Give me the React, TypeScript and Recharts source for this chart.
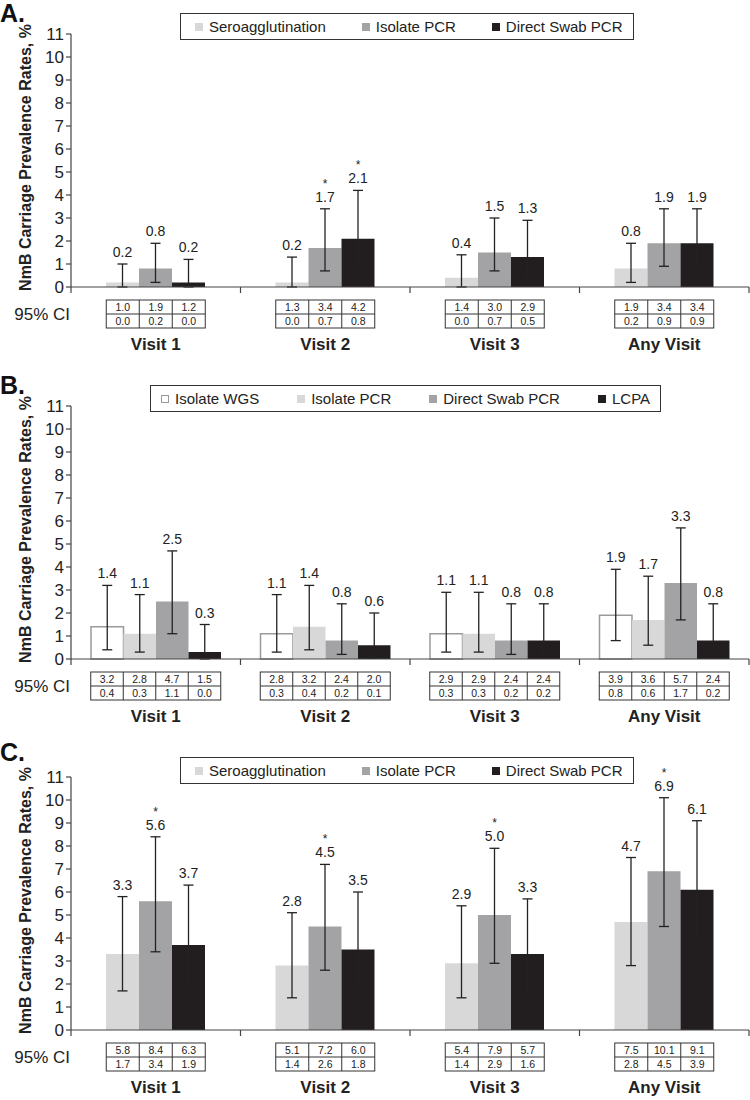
import React from 'react';
import { BarChart, Bar, XAxis, YAxis, ErrorBar, Legend } from 'recharts';

const FONT = '"Liberation Sans", Arial, Helvetica, sans-serif';

const visits = ['Visit 1', 'Visit 2', 'Visit 3', 'Any Visit'];
const yTicks = [0, 1, 2, 3, 4, 5, 6, 7, 8, 9, 10, 11];

// Panel A
const aSeroVal = [0.2, 0.2, 0.4, 0.8];
const aSeroHi = [1.0, 1.3, 1.4, 1.9];
const aSeroLo = [0.0, 0.0, 0.0, 0.2];
const aIsoVal = [0.8, 1.7, 1.5, 1.9];
const aIsoHi = [1.9, 3.4, 3.0, 3.4];
const aIsoLo = [0.2, 0.7, 0.7, 0.9];
const aDirVal = [0.2, 2.1, 1.3, 1.9];
const aDirHi = [1.2, 4.2, 2.9, 3.4];
const aDirLo = [0.0, 0.8, 0.5, 0.9];
const aIsoStar = [false, true, false, false];
const aDirStar = [false, true, false, false];

// Panel B
const bWgsVal = [1.4, 1.1, 1.1, 1.9];
const bWgsHi = [3.2, 2.8, 2.9, 3.9];
const bWgsLo = [0.4, 0.3, 0.3, 0.8];
const bIsoVal = [1.1, 1.4, 1.1, 1.7];
const bIsoHi = [2.8, 3.2, 2.9, 3.6];
const bIsoLo = [0.3, 0.4, 0.3, 0.6];
const bDirVal = [2.5, 0.8, 0.8, 3.3];
const bDirHi = [4.7, 2.4, 2.4, 5.7];
const bDirLo = [1.1, 0.2, 0.2, 1.7];
const bLcpaVal = [0.3, 0.6, 0.8, 0.8];
const bLcpaHi = [1.5, 2.0, 2.4, 2.4];
const bLcpaLo = [0.0, 0.1, 0.2, 0.2];
const noStar = [false, false, false, false];

// Panel C
const cSeroVal = [3.3, 2.8, 2.9, 4.7];
const cSeroHi = [5.8, 5.1, 5.4, 7.5];
const cSeroLo = [1.7, 1.4, 1.4, 2.8];
const cIsoVal = [5.6, 4.5, 5.0, 6.9];
const cIsoHi = [8.4, 7.2, 7.9, 10.1];
const cIsoLo = [3.4, 2.6, 2.9, 4.5];
const cDirVal = [3.7, 3.5, 3.3, 6.1];
const cDirHi = [6.3, 6.0, 5.7, 9.1];
const cDirLo = [1.9, 1.8, 1.6, 3.9];
const cIsoStar = [true, true, true, true];

const LIGHT = '#d8d8d8';
const MID = '#a3a3a5';
const DARK = '#221e1f';

type Series = {
  key: string;
  name: string;
  fill: string;
  stroke?: string;
  val: number[];
  hi: number[];
  lo: number[];
  star: boolean[];
};

const seriesA: Series[] = [
  { key: 'sero', name: 'Seroagglutination', fill: LIGHT, val: aSeroVal, hi: aSeroHi, lo: aSeroLo, star: noStar },
  { key: 'iso', name: 'Isolate PCR', fill: MID, val: aIsoVal, hi: aIsoHi, lo: aIsoLo, star: aIsoStar },
  { key: 'dir', name: 'Direct Swab PCR', fill: DARK, val: aDirVal, hi: aDirHi, lo: aDirLo, star: aDirStar },
];
const seriesB: Series[] = [
  { key: 'wgs', name: 'Isolate WGS', fill: '#ffffff', stroke: '#9a9a9a', val: bWgsVal, hi: bWgsHi, lo: bWgsLo, star: noStar },
  { key: 'iso', name: 'Isolate PCR', fill: LIGHT, val: bIsoVal, hi: bIsoHi, lo: bIsoLo, star: noStar },
  { key: 'dir', name: 'Direct Swab PCR', fill: MID, val: bDirVal, hi: bDirHi, lo: bDirLo, star: noStar },
  { key: 'lcpa', name: 'LCPA', fill: DARK, val: bLcpaVal, hi: bLcpaHi, lo: bLcpaLo, star: noStar },
];
const seriesC: Series[] = [
  { key: 'sero', name: 'Seroagglutination', fill: LIGHT, val: cSeroVal, hi: cSeroHi, lo: cSeroLo, star: noStar },
  { key: 'iso', name: 'Isolate PCR', fill: MID, val: cIsoVal, hi: cIsoHi, lo: cIsoLo, star: cIsoStar },
  { key: 'dir', name: 'Direct Swab PCR', fill: DARK, val: cDirVal, hi: cDirHi, lo: cDirLo, star: noStar },
];

const CHART_W = 750;
const CHART_H = 355;
const Y_W = 71;
const M_RIGHT = 1;
const BAND = (CHART_W - Y_W - M_RIGHT) / visits.length;

const buildData = (series: Series[]) =>
  visits.map((v, i) => {
    const row: any = { visit: v };
    series.forEach((s) => {
      row[s.key] = s.val[i];
      row[s.key + 'Err'] = [s.val[i] - s.lo[i], s.hi[i] - s.val[i]];
    });
    return row;
  });

const makeLabel = (s: Series) => (props: any) => {
  const vb = props.viewBox && props.viewBox.width !== undefined ? props.viewBox : props;
  const index = props.index;
  if (index === undefined || index === null) return null;
  const v = s.val[index];
  const bottom = vb.y + vb.height;
  const perUnit = v > 0 ? vb.height / v : 0;
  const yTop = bottom - s.hi[index] * perUnit;
  const cx = vb.x + vb.width / 2;
  return (
    <g>
      <text x={cx} y={yTop - 7} textAnchor="middle" fontSize={14} fill="#222" fontFamily={FONT}>
        {v.toFixed(1)}
      </text>
      {s.star[index] ? (
        <text x={cx} y={yTop - 21} textAnchor="middle" fontSize={12} fill="#222" fontFamily={FONT}>
          *
        </text>
      ) : null}
    </g>
  );
};

const makeTick = (series: Series[], barW: number) => (props: any) => {
  const { x, y, payload } = props;
  const i = payload && payload.index !== undefined ? payload.index : props.index;
  const n = series.length;
  const tw = n * barW;
  const left = x - tw / 2;
  const top = y + 13;
  const rowH = 14;
  return (
    <g fontFamily={FONT}>
      {i === 0 ? <line x1={x - BAND / 2} x2={x - BAND / 2} y1={y} y2={y + 6} stroke="#444" strokeWidth={1.2} /> : null}
      <line x1={x + BAND / 2} x2={x + BAND / 2} y1={y} y2={y + 6} stroke="#444" strokeWidth={1.2} />
      <rect x={left} y={top} width={tw} height={rowH * 2} fill="#fff" stroke="#333" strokeWidth={1} />
      <line x1={left} x2={left + tw} y1={top + rowH} y2={top + rowH} stroke="#333" strokeWidth={1} />
      {series.map((s, k) => (
        <g key={s.key}>
          {k > 0 ? (
            <line x1={left + k * barW} x2={left + k * barW} y1={top} y2={top + rowH * 2} stroke="#333" strokeWidth={1} />
          ) : null}
          <text x={left + k * barW + barW / 2} y={top + 11} textAnchor="middle" fontSize={10.5} fill="#222">
            {s.hi[i].toFixed(1)}
          </text>
          <text x={left + k * barW + barW / 2} y={top + rowH + 11} textAnchor="middle" fontSize={10.5} fill="#222">
            {s.lo[i].toFixed(1)}
          </text>
        </g>
      ))}
      <text x={x} y={y + 63} textAnchor="middle" fontSize={17} fontWeight="bold" fill="#222">
        {payload.value}
      </text>
      {i === 0 ? (
        <text x={x - BAND / 2 - 1} y={y + 33} textAnchor="end" fontSize={17} fill="#222">
          95% CI
        </text>
      ) : null}
    </g>
  );
};

const yLabel = (props: any) => {
  const vb = props.viewBox;
  const cx = 25;
  const cy = vb.y + vb.height / 2 - 3;
  return (
    <text
      x={cx}
      y={cy}
      transform={`rotate(-90, ${cx}, ${cy})`}
      textAnchor="middle"
      dominantBaseline="central"
      fontSize={16}
      fontWeight="bold"
      fill="#222"
      fontFamily={FONT}
    >
      NmB Carriage Prevalence Rates, %
    </text>
  );
};

const makeLegend = (series: Series[], padL: number, gap: number) => () => (
  <div
    style={{
      display: 'flex',
      alignItems: 'center',
      border: '1px solid #333',
      height: 27,
      boxSizing: 'border-box',
      paddingLeft: padL,
      paddingRight: 10,
      background: '#fff',
      fontFamily: FONT,
      fontSize: 15,
      color: '#222',
      whiteSpace: 'nowrap',
    }}
  >
    {series.map((s, k) => (
      <div key={s.key} style={{ display: 'flex', alignItems: 'center', marginLeft: k > 0 ? gap : 0 }}>
        <span
          style={{
            display: 'inline-block',
            width: 8,
            height: 8,
            boxSizing: 'border-box',
            background: s.fill,
            border: s.stroke ? `1px solid ${s.stroke}` : 'none',
            marginRight: 6,
          }}
        />
        <span>{s.name}</span>
      </div>
    ))}
  </div>
);

type PanelProps = {
  top: number;
  letter: string;
  letterTop: number;
  series: Series[];
  barW: number;
  legendLeft: number;
  legendTop: number;
  legendPad: number;
  legendGap: number;
};

const Panel = ({ top, letter, letterTop, series, barW, legendLeft, legendTop, legendPad, legendGap }: PanelProps) => {
  const data = buildData(series);
  return (
    <>
      <div
        style={{
          position: 'absolute',
          left: 0,
          top: letterTop,
          fontFamily: FONT,
          fontWeight: 'bold',
          fontSize: 25,
          lineHeight: 1,
          color: '#111',
        }}
      >
        {letter}
      </div>
      <div style={{ position: 'absolute', left: 0, top }}>
        <BarChart
          width={CHART_W}
          height={CHART_H}
          data={data}
          margin={{ top: 34, right: M_RIGHT, left: 0, bottom: 0 }}
          barGap={0}
          barSize={barW}
        >
          <XAxis
            dataKey="visit"
            height={68}
            tickLine={false}
            tickSize={0}
            tickMargin={0}
            interval={0}
            axisLine={{ stroke: '#444', strokeWidth: 1.2 }}
            tick={makeTick(series, barW)}
          />
          <YAxis
            width={Y_W}
            domain={[0, 11]}
            ticks={yTicks}
            interval={0}
            tickSize={5}
            tickMargin={2}
            axisLine={{ stroke: '#444', strokeWidth: 1.2 }}
            tickLine={{ stroke: '#444', strokeWidth: 1.2 }}
            tick={{ fontSize: 17, fill: '#222', fontFamily: FONT }}
            label={yLabel}
          />
          <Legend
            layout="horizontal"
            verticalAlign="middle"
            content={makeLegend(series, legendPad, legendGap)}
            wrapperStyle={{ position: 'absolute', left: legendLeft, top: legendTop, width: 'auto', height: 'auto' }}
          />
          {series.map((s) => (
            <Bar
              key={s.key}
              dataKey={s.key}
              name={s.name}
              fill={s.fill}
              stroke={s.stroke}
              strokeWidth={s.stroke ? 1.5 : 0}
              isAnimationActive={false}
              label={makeLabel(s)}
            >
              <ErrorBar dataKey={s.key + 'Err'} width={5} stroke="#222" strokeWidth={1.3} direction="y" />
            </Bar>
          ))}
        </BarChart>
      </div>
    </>
  );
};

export default function App() {
  return (
    <div style={{ position: 'absolute', left: 0, top: 0, width: 750, height: 1100, background: '#fff', fontFamily: FONT }}>
      <Panel top={0} letter="A." letterTop={1} series={seriesA} barW={33} legendLeft={180} legendTop={13} legendPad={14} legendGap={36} />
      <Panel top={372} letter="B." letterTop={373} series={seriesB} barW={32.5} legendLeft={150} legendTop={13} legendPad={10} legendGap={38} />
      <Panel top={743} letter="C." letterTop={740} series={seriesC} barW={33} legendLeft={180} legendTop={14} legendPad={14} legendGap={36} />
    </div>
  );
}
